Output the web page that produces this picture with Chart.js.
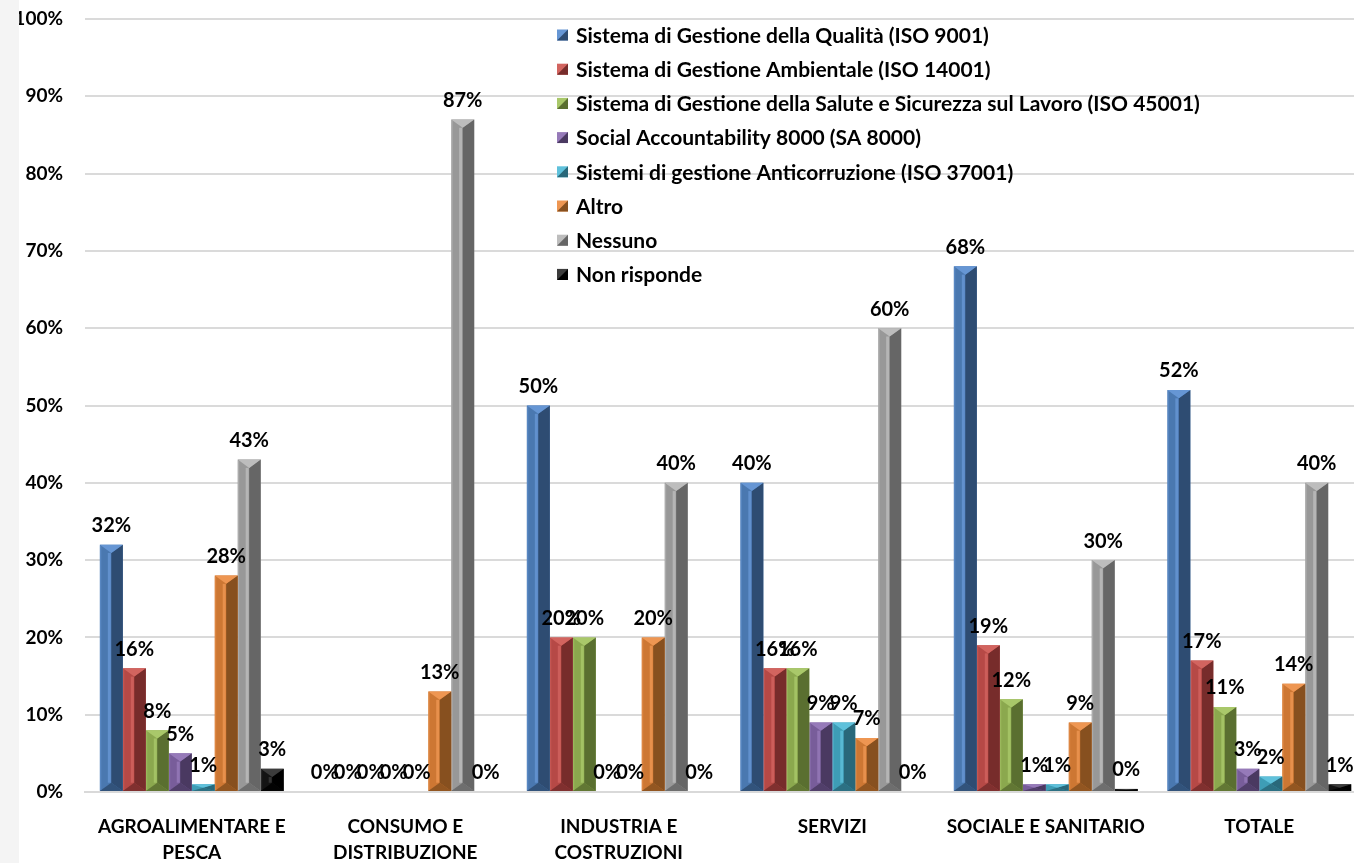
<!DOCTYPE html>
<html>
<head>
<meta charset="utf-8">
<script src="https://cdn.jsdelivr.net/npm/chart.js@4.4.1/dist/chart.umd.min.js"></script>
<style>
  html, body { margin: 0; padding: 0; width: 1354px; height: 863px; overflow: hidden; background: #f4f4f4; }
  #wrap { position: absolute; left: 19px; top: 0; width: 1347px; height: 863px; background: #ffffff; }
  canvas { display: block; }
</style>
</head>
<body>
<div id="wrap"><canvas id="chart" width="1347" height="863"></canvas></div>
<script>
// Settori (categorie dell'asse X)
const categories = [
  ["AGROALIMENTARE E", "PESCA"],
  ["CONSUMO E", "DISTRIBUZIONE"],
  ["INDUSTRIA E", "COSTRUZIONI"],
  "SERVIZI",
  "SOCIALE E SANITARIO",
  "TOTALE"
];

// Nomi delle serie (certificazioni)
const seriesNames = [
  "Sistema di Gestione della Qualità (ISO 9001)",
  "Sistema di Gestione Ambientale (ISO 14001)",
  "Sistema di Gestione della Salute e Sicurezza sul Lavoro (ISO 45001)",
  "Social Accountability 8000 (SA 8000)",
  "Sistemi di gestione Anticorruzione (ISO 37001)",
  "Altro",
  "Nessuno",
  "Non risponde"
];

// Percentuali per settore
const qualita        = [32, 0, 50, 40, 68, 52];
const ambientale     = [16, 0, 20, 16, 19, 17];
const salute         = [8, 0, 20, 16, 12, 11];
const sa8000         = [5, 0, 0, 9, 1, 3];
const anticorruzione = [1, 0, 0, 9, 1, 2];
const altro          = [28, 13, 20, 7, 9, 14];
const nessuno        = [43, 87, 40, 60, 30, 40];
const nonRisponde    = [3, 0, 0, 0, 0.4, 1];

// Tacche dell'asse Y
const yTicks = [0, 10, 20, 30, 40, 50, 60, 70, 80, 90, 100];

// Colori: faccia frontale, smusso chiaro, lato in ombra
const palette = [
  { base: "#4a78b0", light: "#6696d4", dark: "#2e4c72" },
  { base: "#b64946", light: "#d2645f", dark: "#772c2b" },
  { base: "#8ba84e", light: "#a9c86a", dark: "#5a6f30" },
  { base: "#785d9a", light: "#967ab9", dark: "#4a3961" },
  { base: "#3e9db6", light: "#5fc1db", dark: "#29687a" },
  { base: "#cd7733", light: "#ee9652", dark: "#87501f" },
  { base: "#989898", light: "#bdbdbd", dark: "#666666" },
  { base: "#141414", light: "#3c3c3c", dark: "#000000" }
];

const seriesValues = [qualita, ambientale, salute, sa8000, anticorruzione, altro, nessuno, nonRisponde];

const FONT = 'Lato, "Open Sans", sans-serif';

// Effetto smussato sulle barre
const bevelPlugin = {
  id: "bevel",
  afterDatasetDraw(chart, args) {
    const ctx = chart.ctx;
    const col = palette[args.index];
    ctx.save();
    args.meta.data.forEach(bar => {
      const p = bar.getProps(["x", "y", "base", "width"], true);
      const L = p.x - p.width / 2, R = p.x + p.width / 2;
      const T = Math.min(p.y, p.base), B = Math.max(p.y, p.base);
      const H = B - T;
      if (H < 0.5) return;
      const C = p.x;
      const h = Math.min(p.width * 0.36, H / 2);
      // lato destro in ombra
      ctx.fillStyle = col.dark;
      ctx.beginPath();
      ctx.moveTo(C, T + h); ctx.lineTo(R, T); ctx.lineTo(R, B); ctx.lineTo(C, B - h); ctx.closePath();
      ctx.fill();
      // smusso superiore
      ctx.fillStyle = col.light;
      ctx.beginPath();
      ctx.moveTo(L, T); ctx.lineTo(R, T); ctx.lineTo(C, T + h); ctx.closePath();
      ctx.fill();
      // smusso inferiore
      ctx.globalAlpha = 0.85;
      ctx.fillStyle = col.dark;
      ctx.beginPath();
      ctx.moveTo(L, B); ctx.lineTo(R, B); ctx.lineTo(C, B - h); ctx.closePath();
      ctx.fill();
      ctx.globalAlpha = 1;
      // spigolo centrale chiaro
      if (H - 2 * h > 1) {
        ctx.fillStyle = col.light;
        ctx.globalAlpha = 0.8;
        ctx.fillRect(C - 3.5, T + h, 3, H - 2 * h);
        ctx.globalAlpha = 0.5;
        ctx.fillRect(L, T + 1, 1.5, H - 2);
        ctx.globalAlpha = 1;
      }
    });
    ctx.restore();
  }
};

// Etichette percentuali sopra le barre
const valueLabelPlugin = {
  id: "valueLabels",
  afterDatasetsDraw(chart) {
    const ctx = chart.ctx;
    ctx.save();
    ctx.font = "bold 20px " + FONT;
    ctx.fillStyle = "#000000";
    ctx.textAlign = "center";
    ctx.textBaseline = "middle";
    chart.data.datasets.forEach((ds, i) => {
      const meta = chart.getDatasetMeta(i);
      meta.data.forEach((bar, j) => {
        const v = ds.data[j];
        ctx.fillText(Math.round(v) + "%", bar.x, bar.y - 19);
      });
    });
    ctx.restore();
  }
};

// Legenda verticale nell'area del grafico
const legendPlugin = {
  id: "sideLegend",
  afterDraw(chart) {
    const ctx = chart.ctx;
    const x0 = 538, y0 = 35, step = 34.2, s = 11;
    ctx.save();
    ctx.font = "bold 21px " + FONT;
    ctx.textAlign = "left";
    ctx.textBaseline = "middle";
    chart.data.datasets.forEach((ds, i) => {
      const y = y0 + i * step;
      const col = palette[i];
      ctx.fillStyle = col.light;
      ctx.fillRect(x0, y - s / 2, s, s);
      ctx.fillStyle = col.dark;
      ctx.beginPath();
      ctx.moveTo(x0 + s, y - s / 2); ctx.lineTo(x0 + s, y + s / 2); ctx.lineTo(x0, y + s / 2); ctx.closePath();
      ctx.fill();
      ctx.fillStyle = "#000000";
      ctx.fillText(ds.label, x0 + 19, y + 1);
    });
    ctx.restore();
  }
};

new Chart(document.getElementById("chart"), {
  type: "bar",
  data: {
    labels: categories,
    datasets: seriesNames.map((name, i) => ({
      label: name,
      data: seriesValues[i],
      backgroundColor: palette[i].base,
      borderWidth: 0,
      categoryPercentage: 0.861,
      barPercentage: 1.0
    }))
  },
  options: {
    responsive: false,
    animation: false,
    devicePixelRatio: 1,
    layout: { padding: { top: 19, left: 0, right: 0, bottom: 0 } },
    plugins: {
      legend: { display: false },
      tooltip: { enabled: false }
    },
    scales: {
      x: {
        grid: { display: false, drawTicks: false },
        border: { display: true, color: "#d9d9d9", width: 2 },
        ticks: {
          color: "#000000",
          font: { family: FONT, size: 19, weight: "bold", lineHeight: 1.37 },
          padding: 22,
          maxRotation: 0,
          autoSkip: false
        },
        afterFit(scale) { scale.height = 71; }
      },
      y: {
        min: 0,
        max: 100,
        afterBuildTicks(scale) { scale.ticks = yTicks.map(v => ({ value: v })); },
        grid: { color: "#dadada", lineWidth: 2, drawTicks: false },
        border: { display: false },
        ticks: {
          color: "#000000",
          font: { family: FONT, size: 19, weight: "bold" },
          padding: 22,
          callback: v => v + "%"
        },
        afterFit(scale) {
          scale.width = 66;
          scale.paddingTop = 0;
          scale.paddingBottom = 0;
        }
      }
    }
  },
  plugins: [bevelPlugin, valueLabelPlugin, legendPlugin]
});
</script>
</body>
</html>
